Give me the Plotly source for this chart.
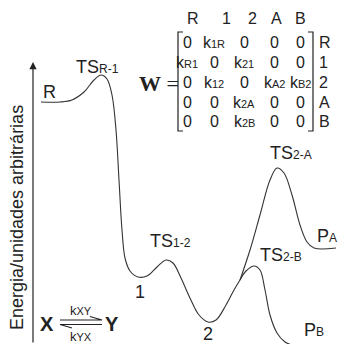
import plotly.graph_objects as go

# Energy profile (reaction coordinate, energy in arbitrary units; drawn on a pixel-like scale)
main_x = [41, 60, 72, 84, 94, 101, 107, 112, 116, 119, 122, 125, 130, 138, 147, 157, 166, 173, 181, 190, 199, 208, 216, 226, 234, 240]
main_y = [102, 102, 100, 92, 80, 75, 79, 95, 130, 180, 230, 258, 271, 277, 276, 267, 260, 263, 278, 298, 315, 322, 320, 305, 290, 280]
upper_x = [240, 250, 260, 270, 277, 284, 292, 300, 307, 314, 336]
upper_y = [280, 250, 215, 180, 168, 173, 195, 225, 242, 248, 248]
lower_x = [240, 246, 254, 260, 265, 270, 277, 285, 292]
lower_y = [280, 271, 266, 270, 290, 315, 333, 342, 345]

# State labels
S = '<span style="font-size:12px">'
E = '</span>'
state_text = ["R", "TS" + S + "R-1" + E, "1", "TS" + S + "1-2" + E, "2",
              "TS" + S + "2-A" + E, "TS" + S + "2-B" + E, "P" + S + "A" + E, "P" + S + "B" + E]
state_x = [49, 97, 140, 170, 208, 291, 281, 327, 314]
state_y = [92, 67, 292, 241, 334, 153, 255, 236, 330]

# Matrix
header = ["R", "1", "2", "A", "B"]
row_labels = ["R", "1", "2", "A", "B"]
s = '<span style="font-size:11px">'
def k(sub):
    return "k" + s + sub + E
matrix = [
    ["0", k("1R"), "0", "0", "0"],
    [k("R1"), "0", k("21"), "0", "0"],
    ["0", k("12"), "0", k("A2"), k("B2")],
    ["0", "0", k("2A"), "0", "0"],
    ["0", "0", k("2B"), "0", "0"],
]

FONT = "Liberation Sans, Arial, sans-serif"
INK = "#222222"

fig = go.Figure()
for xs, ys in [(main_x, main_y), (upper_x, upper_y), (lower_x, lower_y)]:
    fig.add_trace(go.Scatter(x=xs, y=ys, mode="lines",
                             line=dict(color="#333333", width=1.1, shape="spline", smoothing=1.0),
                             hoverinfo="skip", showlegend=False))

ann = []
for t, x, y in zip(state_text, state_x, state_y):
    ann.append(dict(x=x, y=y, text=t, showarrow=False, font=dict(family=FONT, size=18, color=INK)))

# matrix header and entries
hdr_x = [193, 226, 252, 276, 300]
col_x = [187, 214, 244, 274, 300]
row_y = [42, 62, 82, 102, 121]
for h, x in zip(header, hdr_x):
    ann.append(dict(x=x, y=18, text=h, showarrow=False, font=dict(family=FONT, size=16, color=INK)))
for r, row in enumerate(matrix):
    for c, v in enumerate(row):
        ann.append(dict(x=col_x[c], y=row_y[r], text=v, showarrow=False,
                        font=dict(family=FONT, size=16, color=INK)))
    ann.append(dict(x=317, y=row_y[r], text=row_labels[r], showarrow=False, xanchor="left",
                    font=dict(family=FONT, size=16, color=INK)))

ann.append(dict(x=159, y=83, text="<b>W</b> =", showarrow=False,
                font=dict(family="Liberation Serif, Times New Roman, serif", size=22, color=INK)))

# axis title
ann.append(dict(x=17, y=218, text="Energia/unidades arbitrárias", textangle=-90, showarrow=False,
                font=dict(family=FONT, size=18, color=INK)))
# axis arrow
ann.append(dict(x=33, y=62, ax=33, ay=344, axref="x", ayref="y", xref="x", yref="y", text="",
                showarrow=True, arrowhead=2, arrowsize=1.2, arrowwidth=1.2, arrowcolor=INK))

# X <-> Y
ann.append(dict(x=47, y=324, text="<b>X</b>", showarrow=False, font=dict(family=FONT, size=20, color=INK)))
ann.append(dict(x=112, y=324, text="<b>Y</b>", showarrow=False, font=dict(family=FONT, size=20, color=INK)))
ann.append(dict(x=81, y=310, text="k" + s + "XY" + E, showarrow=False, font=dict(family=FONT, size=13, color=INK)))
ann.append(dict(x=81, y=336, text="k" + s + "YX" + E, showarrow=False, font=dict(family=FONT, size=13, color=INK)))

shapes = []
line = dict(color=INK, width=1.2)
# brackets
shapes.append(dict(type="path", path="M 183 32 L 178 32 L 178 131 L 183 131", line=line, xref="x", yref="y"))
shapes.append(dict(type="path", path="M 308 32 L 313 32 L 313 131 L 308 131", line=line, xref="x", yref="y"))
# harpoons
shapes.append(dict(type="path", path="M 60 320 L 102 320 L 90 316.5", line=line, xref="x", yref="y"))
shapes.append(dict(type="path", path="M 102 324.5 L 60 324.5 L 72 328", line=line, xref="x", yref="y"))

fig.update_layout(
    width=345, height=344, margin=dict(l=0, r=0, t=0, b=0),
    paper_bgcolor="white", plot_bgcolor="white",
    xaxis=dict(range=[0, 345], visible=False, fixedrange=True),
    yaxis=dict(range=[344, 0], visible=False, fixedrange=True),
    annotations=ann, shapes=shapes,
)
fig.write_html("out.html", config={"displayModeBar": False},
               post_script="document.body.style.margin='0';document.body.style.overflow='hidden';")
